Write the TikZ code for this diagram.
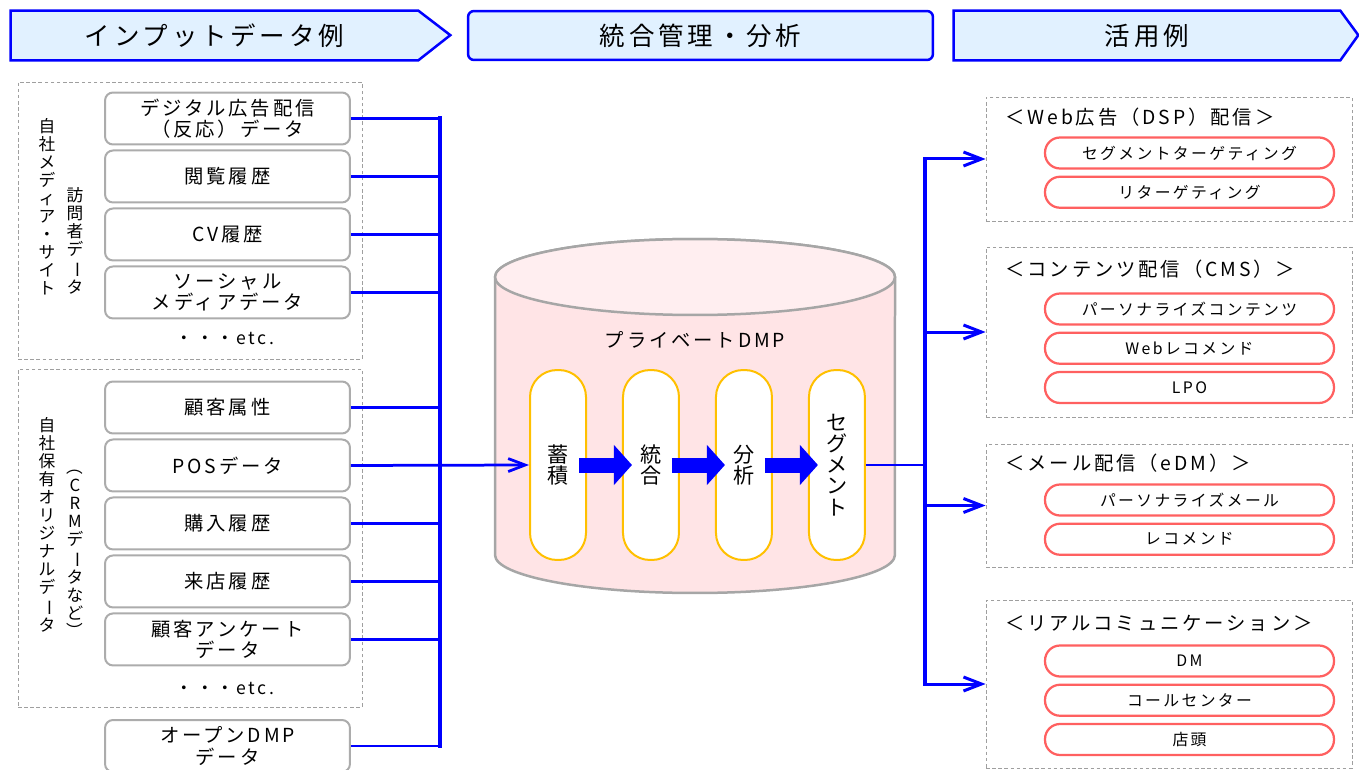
\documentclass[tikz,border=0pt]{standalone}
\usepackage{fontspec}
\setmainfont{Noto Sans CJK JP}[LetterSpace=15]
\newfontfamily\jpn{Noto Sans CJK JP}
\usepackage{graphicx}
\usepackage{tikz}
\usetikzlibrary{arrows.meta,positioning,backgrounds}
\definecolor{HdrBlue}{RGB}{225,241,255}
\definecolor{LineBlue}{RGB}{0,0,255}
\definecolor{DbPink}{RGB}{255,228,230}
\definecolor{DbTop}{RGB}{255,238,240}
\definecolor{PillGold}{RGB}{255,192,0}
\definecolor{UseRed}{RGB}{255,96,96}
\newcommand{\vbarjp}{\rotatebox[origin=c]{-90}{ー}}
\newcommand{\vlparen}{\rotatebox[origin=c]{-90}{（}}
\newcommand{\vrparen}{\rotatebox[origin=c]{-90}{）}}

\begin{document}
\begin{tikzpicture}[x=0.02cm, y=0.02cm,
    hdr/.style={minimum height=0.98cm, inner sep=0pt, font=\fontsize{14.5}{16}\selectfont},
    hdrline/.style={draw=LineBlue, line width=0.05cm, fill=HdrBlue, line join=miter},
    grp/.style={draw=gray!75, dash pattern=on 2pt off 1.5pt, line width=0.5pt},
    src/.style={draw=gray!65, line width=0.04cm, rounded corners=0.16cm, fill=white, minimum width=4.9cm, minimum height=1.04cm, align=center, inner sep=0pt, font=\fontsize{11}{12}\selectfont},
    vtxt/.style={align=center, inner sep=0pt, font=\jpn\fontsize{9.5}{10.25}\selectfont},
    etctxt/.style={font=\fontsize{10}{12}\selectfont},
    dbline/.style={draw=gray!70, line width=0.05cm},
    stage/.style={draw=PillGold, line width=0.04cm, fill=white, rounded corners=0.54cm, minimum width=1.12cm, minimum height=3.8cm, align=center, inner sep=0pt, font=\jpn\fontsize{12}{12}\selectfont},
    app/.style={draw=UseRed, line width=0.045cm, fill=white, rounded corners=0.3cm, minimum width=5.78cm, minimum height=0.62cm, inner sep=0pt, font=\fontsize{9}{10}\selectfont},
    usehd/.style={anchor=west, inner sep=0pt, font=\fontsize{11}{12}\selectfont},
    feed/.style={LineBlue, line width=0.055cm},
    bus/.style={LineBlue, line width=0.08cm, line cap=rect},
    inarr/.style={feed, -{Straight Barb[length=3.4mm, width=2.6mm]}},
    outarr/.style={LineBlue, line width=0.06cm, -{Straight Barb[length=3.6mm, width=2.8mm]}},
    blk/.style={LineBlue, line width=0.3cm, -{Triangle[length=0.36cm, width=0.78cm]}, shorten <=-0.16cm, shorten >=-0.2cm}
  ]
    \useasboundingbox (0,0) rectangle (1359,-770);

    \node[hdr, minimum width=8.14cm] (h1) at (214.5,-35.5) {インプットデータ例};
    \node[hdr, minimum width=9.3cm, draw=LineBlue, line width=0.05cm, fill=HdrBlue, rounded corners=0.12cm] (h2) at (700.5,-35.5) {統合管理・分析};
    \node[hdr, minimum width=7.72cm] (h3) at (1147,-35.5) {活用例};
    \begin{scope}[on background layer]
      \draw[hdrline] (h1.north west) -- (h1.north east) -- ++(32,-24.5) -- (h1.south east) -- (h1.south west) -- cycle;
      \draw[hdrline] (h3.north west) -- (h3.north east) -- ++(18,-24.5) -- (h3.south east) -- (h3.south west) -- cycle;
    \end{scope}

    \node[grp, minimum width=6.88cm, minimum height=5.54cm] (m1) at (190,-220.5) {};
    \node[grp, minimum width=6.88cm, minimum height=6.76cm] (m2) at (190,-538) {};

    \node[src] (d1) at (227.5,-118.5) {デジタル広告配信\\（反応）データ};
    \node[src, below=0.08cm of d1] (d2) {閲覧履歴};
    \node[src, below=0.08cm of d2] (d3) {CV履歴};
    \node[src, below=0.08cm of d3] (d4) {ソーシャル\\メディアデータ};
    \node[etctxt] (e1) at (225,-338) {・・・etc.};
    \node[vtxt, anchor=south] (v1a) at (47,-295) {自\\社\\メ\\デ\\ィ\\ア\\・\\サ\\イ\\ト};
    \node[vtxt, anchor=south] (v1b) at (75,-295) {訪\\問\\者\\デ\\\vbarjp\\タ};

    \node[src] (c1) at (227.5,-407.5) {顧客属性};
    \node[src, below=0.08cm of c1] (c2) {POSデータ};
    \node[src, below=0.08cm of c2] (c3) {購入履歴};
    \node[src, below=0.08cm of c3] (c4) {来店履歴};
    \node[src, below=0.08cm of c4] (c5) {顧客アンケート\\データ};
    \node[etctxt] (e2) at (225,-688) {・・・etc.};
    \node[vtxt, anchor=south] (v2a) at (47,-633) {自\\社\\保\\有\\オ\\リ\\ジ\\ナ\\ル\\デ\\\vbarjp\\タ};
    \node[vtxt, anchor=north] (v2b) at (75,-458) {\vlparen\\C\\R\\M\\デ\\\vbarjp\\タ\\な\\ど\\\vrparen};

    \node[src] (op) at (227.5,-746) {オープンDMP\\データ};

    \draw[dbline, fill=DbPink] (495,-277) -- (495,-555) arc[start angle=180, end angle=360, x radius=4cm, y radius=0.76cm] -- (895,-277) arc[start angle=0, end angle=180, x radius=4cm, y radius=0.76cm] -- cycle;
    \draw[dbline, fill=DbTop] (695,-277) ellipse [x radius=4cm, y radius=0.76cm];
    \node[font=\fontsize{11}{12}\selectfont] (dbl) at (695,-340) {プライベートDMP};

    \node[stage] (st) at (558,-465) {蓄\\積};
    \node[stage, right=0.7cm of st] (it) {統\\合};
    \node[stage, right=0.7cm of it] (an) {分\\析};
    \node[stage, right=0.7cm of an] (seg) {セ\\グ\\メ\\ン\\ト};
    \draw[blk] (st.east) -- (it.west);
    \draw[blk] (it.east) -- (an.west);
    \draw[blk] (an.east) -- (seg.west);

    \coordinate (busL) at (440,0);
    \foreach \n in {d1,d2,d3,d4,c1,c3,c4,c5,op}
      \draw[feed] (\n.east) -- (\n.east -| busL);
    \draw[bus] (d1.east -| busL) -- (op.east -| busL);
    \draw[inarr] (c2.east) -- (st.west);

    \node[grp, minimum width=7.32cm, minimum height=2.48cm] (g1) at (1169,-159) {};
    \node[grp, minimum width=7.32cm, minimum height=3.4cm] (g2) at (1169,-332) {};
    \node[grp, minimum width=7.32cm, minimum height=2.46cm] (g3) at (1169,-505.5) {};
    \node[grp, minimum width=7.32cm, minimum height=3.36cm] (g4) at (1169,-684) {};

    \node[usehd] (t1) at (1005,-117) {＜Web広告（DSP）配信＞};
    \node[app] (u11) at (1189.5,-153) {セグメントターゲティング};
    \node[app, below=0.12cm of u11] (u12) {リターゲティング};
    \node[usehd] (t2) at (1005,-269) {＜コンテンツ配信（CMS）＞};
    \node[app] (u21) at (1189.5,-309) {パーソナライズコンテンツ};
    \node[app, below=0.12cm of u21] (u22) {Webレコメンド};
    \node[app, below=0.12cm of u22] (u23) {LPO};
    \node[usehd] (t3) at (1005,-463) {＜メール配信（eDM）＞};
    \node[app] (u31) at (1189.5,-500) {パーソナライズメール};
    \node[app, below=0.12cm of u31] (u32) {レコメンド};
    \node[usehd] (t4) at (1005,-623) {＜リアルコミュニケーション＞};
    \node[app] (u41) at (1189.5,-661) {DM};
    \node[app, below=0.12cm of u41] (u42) {コールセンター};
    \node[app, below=0.12cm of u42] (u43) {店頭};

    \coordinate (busR) at (925,0);
    \draw[feed, line width=0.045cm] (seg.east) -- (seg.east -| busR);
    \draw[bus] (g1.west -| busR) -- (g4.west -| busR);
    \foreach \g in {g1,g2,g3,g4}
      \draw[outarr] (\g.west -| busR) -- (\g.west);
  \end{tikzpicture}
\end{document}
